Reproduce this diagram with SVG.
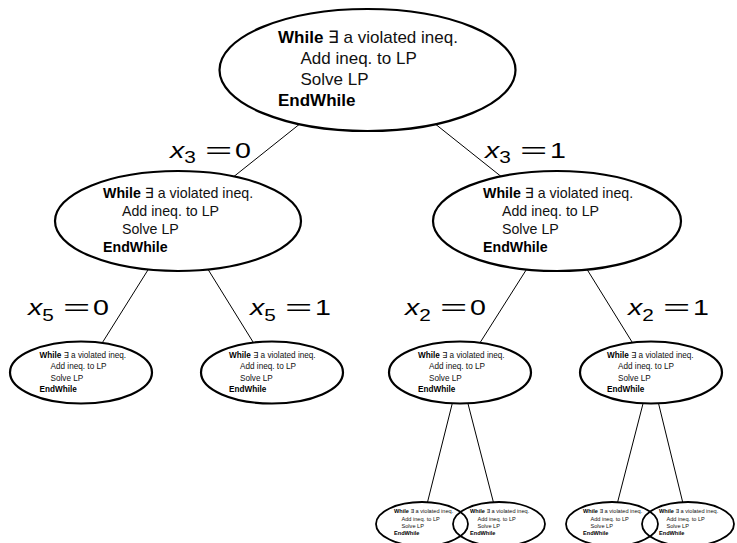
<svg xmlns="http://www.w3.org/2000/svg" width="737" height="543" viewBox="0 0 737 543">
<style>
text{font-family:"Liberation Sans","DejaVu Sans",sans-serif;fill:#111}
.b{font-weight:bold;fill:#000}
.t0{font-size:17px}
.t1{font-size:14.2px}
.t2{font-size:8.2px}
.t3{font-size:5.6px}
.e{fill:none;stroke:#000;stroke-width:2.2}
.e3{fill:none;stroke:#000;stroke-width:1.8}
.c line{stroke:#000;stroke-width:1}
.lab text{font-size:22px;fill:#000}
.lab .s{font-size:16px}
</style>
<rect width="737" height="543" fill="#fff"/>
<g class="c" id="connectors">
<line x1="299.5" y1="124.2" x2="233.9" y2="176.5"/>
<line x1="435.5" y1="124.2" x2="501.0" y2="176.4"/>
<line x1="148.3" y1="269.4" x2="102.4" y2="342.6"/>
<line x1="208.1" y1="269.5" x2="253.4" y2="342.6"/>
<line x1="526.5" y1="269.4" x2="480.1" y2="342.6"/>
<line x1="587.1" y1="269.5" x2="632.4" y2="342.6"/>
<line x1="452.3" y1="403.3" x2="427.5" y2="502.2"/>
<line x1="467.9" y1="403.3" x2="493.4" y2="502.2"/>
<line x1="643.1" y1="403.3" x2="617.6" y2="502.2"/>
<line x1="658.5" y1="403.3" x2="682.7" y2="502.2"/>
</g>
<g id="labels">
<g class="lab" transform="translate(170,157.5) scale(1.3,1)"><text x="0" y="0"><tspan font-style="italic">x</tspan><tspan class="s" dy="5.6">3</tspan></text><text x="27" y="0" textLength="21" lengthAdjust="spacingAndGlyphs">=</text><text x="50" y="0">0</text></g>
<g class="lab" transform="translate(485,157.5) scale(1.3,1)"><text x="0" y="0"><tspan font-style="italic">x</tspan><tspan class="s" dy="5.6">3</tspan></text><text x="27" y="0" textLength="21" lengthAdjust="spacingAndGlyphs">=</text><text x="50" y="0">1</text></g>
<g class="lab" transform="translate(28,315) scale(1.3,1)"><text x="0" y="0"><tspan font-style="italic">x</tspan><tspan class="s" dy="5.6">5</tspan></text><text x="27" y="0" textLength="21" lengthAdjust="spacingAndGlyphs">=</text><text x="50" y="0">0</text></g>
<g class="lab" transform="translate(250,315) scale(1.3,1)"><text x="0" y="0"><tspan font-style="italic">x</tspan><tspan class="s" dy="5.6">5</tspan></text><text x="27" y="0" textLength="21" lengthAdjust="spacingAndGlyphs">=</text><text x="50" y="0">1</text></g>
<g class="lab" transform="translate(405,315) scale(1.3,1)"><text x="0" y="0"><tspan font-style="italic">x</tspan><tspan class="s" dy="5.6">2</tspan></text><text x="27" y="0" textLength="21" lengthAdjust="spacingAndGlyphs">=</text><text x="50" y="0">0</text></g>
<g class="lab" transform="translate(628,315) scale(1.3,1)"><text x="0" y="0"><tspan font-style="italic">x</tspan><tspan class="s" dy="5.6">2</tspan></text><text x="27" y="0" textLength="21" lengthAdjust="spacingAndGlyphs">=</text><text x="50" y="0">1</text></g>
</g>
<g id="root">
<ellipse class="e" cx="367.5" cy="70" rx="148" ry="61"/>
<text class="t0" x="278" y="43"><tspan class="b">While</tspan> ∃ a violated ineq.</text>
<text class="t0" x="300.5" y="64">Add ineq. to LP</text>
<text class="t0" x="300.5" y="85">Solve LP</text>
<text class="t0 b" x="278" y="106">EndWhile</text>
</g>
<g id="n_x3_0">
<ellipse class="e" cx="178" cy="221" rx="123" ry="50"/>
<text class="t1" x="103" y="198"><tspan class="b">While</tspan> ∃ a violated ineq.</text>
<text class="t1" x="122" y="216">Add ineq. to LP</text>
<text class="t1" x="122" y="233.5">Solve LP</text>
<text class="t1 b" x="103" y="251.5">EndWhile</text>
</g>
<g id="n_x3_1">
<ellipse class="e" cx="557" cy="221" rx="124" ry="50"/>
<text class="t1" x="483" y="198"><tspan class="b">While</tspan> ∃ a violated ineq.</text>
<text class="t1" x="502" y="216">Add ineq. to LP</text>
<text class="t1" x="502" y="233.5">Solve LP</text>
<text class="t1 b" x="483" y="251.5">EndWhile</text>
</g>
<g id="n_x5_0">
<ellipse class="e" cx="81" cy="372.5" rx="71" ry="31"/>
<text class="t2" x="39.5" y="357.5"><tspan class="b">While</tspan> ∃ a violated ineq.</text>
<text class="t2" x="50.5" y="369">Add ineq. to LP</text>
<text class="t2" x="50.5" y="380.5">Solve LP</text>
<text class="t2 b" x="39.5" y="392">EndWhile</text>
</g>
<g id="n_x5_1">
<ellipse class="e" cx="272" cy="372.5" rx="71" ry="31"/>
<text class="t2" x="229" y="357.5"><tspan class="b">While</tspan> ∃ a violated ineq.</text>
<text class="t2" x="240" y="369">Add ineq. to LP</text>
<text class="t2" x="240" y="380.5">Solve LP</text>
<text class="t2 b" x="229" y="392">EndWhile</text>
</g>
<g id="n_x2_0">
<ellipse class="e" cx="460" cy="372.5" rx="71" ry="31"/>
<text class="t2" x="418" y="357.5"><tspan class="b">While</tspan> ∃ a violated ineq.</text>
<text class="t2" x="429" y="369">Add ineq. to LP</text>
<text class="t2" x="429" y="380.5">Solve LP</text>
<text class="t2 b" x="418" y="392">EndWhile</text>
</g>
<g id="n_x2_1">
<ellipse class="e" cx="651" cy="372.5" rx="71" ry="31"/>
<text class="t2" x="607" y="357.5"><tspan class="b">While</tspan> ∃ a violated ineq.</text>
<text class="t2" x="618" y="369">Add ineq. to LP</text>
<text class="t2" x="618" y="380.5">Solve LP</text>
<text class="t2 b" x="607" y="392">EndWhile</text>
</g>
<g id="n_l4_1">
<ellipse class="e3" cx="422" cy="524" rx="46" ry="22"/>
<text class="t3" x="394" y="513.3"><tspan class="b">While</tspan> ∃ a violated ineq.</text>
<text class="t3" x="401.5" y="520.7">Add ineq. to LP</text>
<text class="t3" x="401.5" y="528">Solve LP</text>
<text class="t3 b" x="394" y="535.3">EndWhile</text>
</g>
<g id="n_l4_2">
<ellipse class="e3" cx="499" cy="524" rx="46" ry="22"/>
<text class="t3" x="470" y="513.3"><tspan class="b">While</tspan> ∃ a violated ineq.</text>
<text class="t3" x="477.5" y="520.7">Add ineq. to LP</text>
<text class="t3" x="477.5" y="528">Solve LP</text>
<text class="t3 b" x="470" y="535.3">EndWhile</text>
</g>
<g id="n_l4_3">
<ellipse class="e3" cx="612" cy="524" rx="46" ry="22"/>
<text class="t3" x="583" y="513.3"><tspan class="b">While</tspan> ∃ a violated ineq.</text>
<text class="t3" x="590.5" y="520.7">Add ineq. to LP</text>
<text class="t3" x="590.5" y="528">Solve LP</text>
<text class="t3 b" x="583" y="535.3">EndWhile</text>
</g>
<g id="n_l4_4">
<ellipse class="e3" cx="688" cy="524" rx="46" ry="22"/>
<text class="t3" x="659" y="513.3"><tspan class="b">While</tspan> ∃ a violated ineq.</text>
<text class="t3" x="666.5" y="520.7">Add ineq. to LP</text>
<text class="t3" x="666.5" y="528">Solve LP</text>
<text class="t3 b" x="659" y="535.3">EndWhile</text>
</g>
</svg>
